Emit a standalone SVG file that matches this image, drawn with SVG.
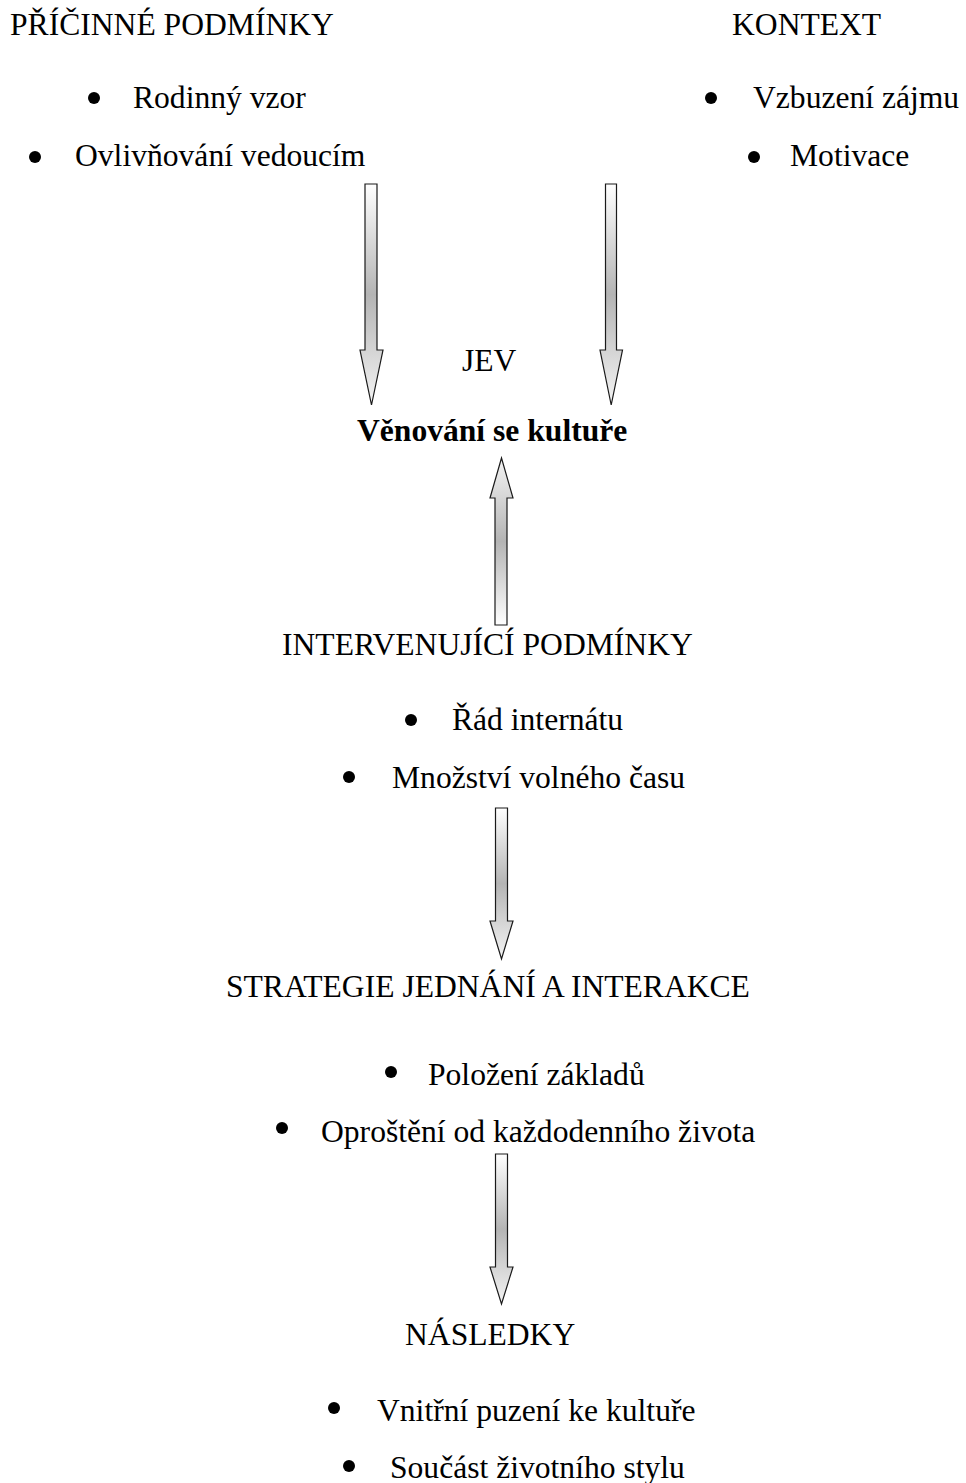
<svg xmlns="http://www.w3.org/2000/svg" width="966" height="1483" viewBox="0 0 966 1483">
<defs>
<linearGradient id="g" x1="0" y1="0" x2="0" y2="1">
<stop offset="0" stop-color="#ffffff"/>
<stop offset="0.5" stop-color="#b4b4b4"/>
<stop offset="1" stop-color="#f4f4f4"/>
</linearGradient>
<linearGradient id="gu" x1="0" y1="1" x2="0" y2="0">
<stop offset="0" stop-color="#ffffff"/>
<stop offset="0.5" stop-color="#b4b4b4"/>
<stop offset="1" stop-color="#f4f4f4"/>
</linearGradient>
<style>
text{font-family:"Liberation Serif","Times New Roman",serif;font-size:31.6px;fill:#000}
.b{font-weight:bold}
.dot{fill:#000}
.arr{stroke:#1a1a1a;stroke-width:1.2;stroke-linejoin:miter}
</style>
</defs>
<rect width="966" height="1483" fill="#fff"/>

<g id="pricinne">
<text x="10" y="35">PŘÍČINNÉ PODMÍNKY</text>
<circle class="dot" cx="94" cy="98" r="6"/>
<text x="133" y="108">Rodinný vzor</text>
<circle class="dot" cx="35" cy="157" r="6"/>
<text x="75" y="166">Ovlivňování vedoucím</text>
</g>

<g id="kontext">
<text x="732" y="35">KONTEXT</text>
<circle class="dot" cx="711" cy="98" r="6"/>
<text x="753" y="108">Vzbuzení zájmu</text>
<circle class="dot" cx="754" cy="157" r="6"/>
<text x="790" y="166">Motivace</text>
</g>

<g id="jev">
<text x="462" y="371">JEV</text>
<text class="b" x="357" y="441">Věnování se kultuře</text>
</g>

<g id="intervenujici">
<text x="282" y="655">INTERVENUJÍCÍ PODMÍNKY</text>
<circle class="dot" cx="411" cy="720" r="6"/>
<text x="452" y="730">Řád internátu</text>
<circle class="dot" cx="349" cy="777" r="6"/>
<text x="392" y="788">Množství volného času</text>
</g>

<g id="strategie">
<text x="226" y="997">STRATEGIE JEDNÁNÍ A INTERAKCE</text>
<circle class="dot" cx="391" cy="1072" r="6"/>
<text x="428" y="1085">Položení základů</text>
<circle class="dot" cx="282" cy="1128" r="6"/>
<text x="321" y="1142">Oproštění od každodenního života</text>
</g>

<g id="nasledky">
<text x="405" y="1345">NÁSLEDKY</text>
<circle class="dot" cx="334" cy="1408" r="6"/>
<text x="377" y="1421">Vnitřní puzení ke kultuře</text>
<circle class="dot" cx="349" cy="1466" r="6"/>
<text x="390" y="1478">Součást životního stylu</text>
</g>

<g id="connectors">
<polygon class="arr" fill="url(#g)" points="365,184 377,184 377,350 383,350 371.5,405 360,350 365,350"/>
<polygon class="arr" fill="url(#g)" points="605.5,184 616.5,184 616.5,350 622.5,350 611.2,405 600,350 605.5,350"/>
<polygon class="arr" fill="url(#gu)" points="495,625 507,625 507,498 513,498 501.5,458 490,498 495,498"/>
<polygon class="arr" fill="url(#g)" points="495.5,808 507.5,808 507.5,921 513,921 501.5,959 490,921 495.5,921"/>
<polygon class="arr" fill="url(#g)" points="495.5,1154 507.5,1154 507.5,1267 513,1267 501.5,1304 490,1267 495.5,1267"/>
</g>
</svg>
